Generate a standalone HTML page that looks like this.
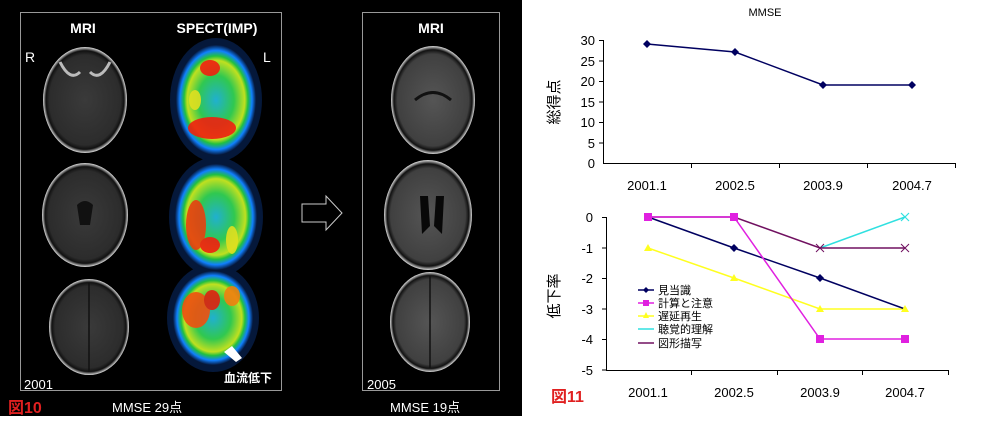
<!DOCTYPE html>
<html><head><meta charset="utf-8"><style>
body{margin:0;width:1000px;height:416px;background:#fff;overflow:hidden;font-family:"Liberation Sans","Noto Sans CJK JP",sans-serif}
</style></head><body>
<svg width="1000" height="416" xmlns="http://www.w3.org/2000/svg" font-family="Liberation Sans, Noto Sans CJK JP, sans-serif">
<defs>
<radialGradient id="mri" cx="50%" cy="50%" r="50%"><stop offset="0" stop-color="#3a3a3a"/><stop offset="0.85" stop-color="#2c2c2c"/><stop offset="0.93" stop-color="#111"/><stop offset="1" stop-color="#ddd"/></radialGradient>
<radialGradient id="mri2" cx="50%" cy="50%" r="50%"><stop offset="0" stop-color="#555"/><stop offset="0.85" stop-color="#404040"/><stop offset="0.93" stop-color="#111"/><stop offset="1" stop-color="#ddd"/></radialGradient>
<radialGradient id="sp" cx="50%" cy="50%" r="50%"><stop offset="0" stop-color="#20b0d0"/><stop offset="0.45" stop-color="#30c850"/><stop offset="0.72" stop-color="#c0e020"/><stop offset="0.8" stop-color="#20c040"/><stop offset="0.9" stop-color="#1080ff"/><stop offset="1" stop-color="#061a40"/></radialGradient>
</defs>
<rect x="0" y="0" width="522" height="416" fill="#000"/>
<rect x="20.5" y="12.5" width="261" height="378" fill="none" stroke="#999" stroke-width="1"/>
<rect x="362.5" y="12.5" width="137" height="378" fill="none" stroke="#999" stroke-width="1"/>
<g fill="#fff" font-weight="bold" font-size="14" text-anchor="middle">
<text x="83" y="33">MRI</text><text x="217" y="33">SPECT(IMP)</text><text x="431" y="33">MRI</text>
</g>
<text x="25" y="62" fill="#fff" font-size="14">R</text><text x="263" y="62" fill="#fff" font-size="14">L</text>
<ellipse cx="85" cy="100" rx="42" ry="53" fill="url(#mri)"/>
<ellipse cx="85" cy="215" rx="43" ry="52" fill="url(#mri)"/>
<ellipse cx="89" cy="327" rx="40" ry="48" fill="url(#mri)"/>
<path d="M60 62 q10 20 20 10 M110 62 q-10 20 -20 10" stroke="#bbb" stroke-width="3" fill="none"/>
<line x1="89" y1="283" x2="89" y2="372" stroke="#111" stroke-width="1.5"/>
<ellipse cx="216" cy="100" rx="46" ry="62" fill="#05183a"/>
<ellipse cx="216" cy="217" rx="47" ry="60" fill="#05183a"/>
<ellipse cx="213" cy="318" rx="46" ry="54" fill="#05183a"/>
<ellipse cx="216" cy="100" rx="40" ry="55" fill="url(#sp)"/>
<ellipse cx="216" cy="217" rx="41" ry="53" fill="url(#sp)"/>
<ellipse cx="213" cy="318" rx="40" ry="47" fill="url(#sp)"/>
<g fill="#f02010" opacity="0.9">
<ellipse cx="212" cy="128" rx="24" ry="11"/><ellipse cx="210" cy="68" rx="10" ry="8"/><ellipse cx="195" cy="100" rx="6" ry="10" fill="#e0e020"/>
<ellipse cx="196" cy="225" rx="10" ry="25" fill="#e84010"/><ellipse cx="210" cy="245" rx="10" ry="8"/><ellipse cx="232" cy="240" rx="6" ry="14" fill="#e0e020"/>
<ellipse cx="196" cy="310" rx="14" ry="18" fill="#f05010"/><ellipse cx="212" cy="300" rx="8" ry="10" fill="#e02010"/><ellipse cx="232" cy="296" rx="8" ry="10" fill="#f08010"/>
</g>
<path d="M77 205 q8 -8 16 0 l-3 20 h-10z" fill="#111"/>
<ellipse cx="433" cy="100" rx="42" ry="54" fill="url(#mri2)"/>
<ellipse cx="428" cy="215" rx="44" ry="55" fill="url(#mri2)"/>
<ellipse cx="430" cy="322" rx="40" ry="50" fill="url(#mri2)"/>
<path d="M415 100 q18 -15 36 0" stroke="#111" stroke-width="3" fill="none"/>
<line x1="430" y1="276" x2="430" y2="368" stroke="#111" stroke-width="1.5"/>
<path d="M420 196 h8 l2 30 l-8 8z M436 196 h8 l-2 38 l-8 -8z" fill="#080808"/>
<path d="M302 204 h24 v-8 l16 17 l-16 17 v-8 h-24z" fill="none" stroke="#ccc" stroke-width="1"/>
<path d="M232 346 l10 12 l-6 4 l-12 -10z" fill="#fff"/>
<text x="248" y="382" fill="#fff" font-size="12" font-weight="bold" text-anchor="middle">血流低下</text>
<text x="24" y="389" fill="#fff" font-size="13">2001</text>
<text x="367" y="389" fill="#fff" font-size="13">2005</text>
<text x="8" y="413" fill="#e02020" font-size="16" font-weight="bold">図10</text>
<text x="112" y="412" fill="#fff" font-size="13">MMSE  29点</text>
<text x="390" y="412" fill="#fff" font-size="13">MMSE  19点</text>

<text x="765" y="16" font-size="11" text-anchor="middle" fill="#000">MMSE</text>
<g stroke="#000" stroke-width="1" fill="none">
<path d="M603.5 40 V163.5 H955"/>
<path d="M599 40.5h4M599 61h4M599 81.5h4M599 102h4M599 122.5h4M599 143h4"/>
<path d="M691.5 163v5M779.5 163v5M867.5 163v5M955.5 163v5"/>
</g>
<g font-size="13" text-anchor="end" fill="#000">
<text x="595" y="45">30</text><text x="595" y="66">25</text><text x="595" y="86">20</text><text x="595" y="107">15</text><text x="595" y="127">10</text><text x="595" y="148">5</text><text x="595" y="168">0</text>
</g>
<g font-size="13" text-anchor="middle" fill="#000">
<text x="647" y="190">2001.1</text><text x="735" y="190">2002.5</text><text x="823" y="190">2003.9</text><text x="912" y="190">2004.7</text>
</g>
<text transform="translate(559,102) rotate(-90)" font-size="15" text-anchor="middle">総得点</text>
<polyline points="647,44 735,52 823,85 912,85" fill="none" stroke="#000060" stroke-width="1.5"/>
<g fill="#000060"><path d="M647 40l4 4-4 4-4-4z"/><path d="M735 48l4 4-4 4-4-4z"/><path d="M823 81l4 4-4 4-4-4z"/><path d="M912 81l4 4-4 4-4-4z"/></g>

<g stroke="#000" stroke-width="1" fill="none">
<path d="M606.5 217 V370.5 H948"/>
<path d="M602 217.5h4M602 248h4M602 278.5h4M602 309h4M602 339.5h4M602 370h4"/>
<path d="M691.5 370v5M777.5 370v5M862.5 370v5M948.5 370v5"/>
</g>
<g font-size="13" text-anchor="end" fill="#000">
<text x="593" y="222">0</text><text x="593" y="253">-1</text><text x="593" y="283">-2</text><text x="593" y="314">-3</text><text x="593" y="344">-4</text><text x="593" y="375">-5</text>
</g>
<g font-size="13" text-anchor="middle" fill="#000">
<text x="648" y="397">2001.1</text><text x="734" y="397">2002.5</text><text x="820" y="397">2003.9</text><text x="905" y="397">2004.7</text>
</g>
<text transform="translate(559,296) rotate(-90)" font-size="15" text-anchor="middle">低下率</text>
<text x="551" y="402" fill="#e02020" font-size="16" font-weight="bold">図11</text>
<polyline points="820,248 905,217" fill="none" stroke="#30e0e0" stroke-width="1.5"/>
<polyline points="648,248 734,278 820,309 905,309" fill="none" stroke="#ffff20" stroke-width="1.5"/>
<polyline points="648,217 734,217 820,248 905,248" fill="none" stroke="#701060" stroke-width="1.5"/>
<polyline points="648,217 734,248 820,278 905,309" fill="none" stroke="#000060" stroke-width="1.5"/>
<polyline points="648,217 734,217 820,339 905,339" fill="none" stroke="#e020e0" stroke-width="1.5"/>
<g fill="#ffff20"><path d="M648 244l4 7h-8z"/><path d="M734 274l4 7h-8z"/><path d="M820 305l4 7h-8z"/><path d="M905 305l4 7h-8z"/></g>
<g fill="#000060"><path d="M734 244l4 4-4 4-4-4z"/><path d="M820 274l4 4-4 4-4-4z"/></g>
<g fill="#e020e0"><rect x="644" y="213" width="8" height="8"/><rect x="730" y="213" width="8" height="8"/><rect x="816" y="335" width="8" height="8"/><rect x="901" y="335" width="8" height="8"/></g>
<g stroke="#701060" stroke-width="1"><path d="M816 244l8 8M824 244l-8 8M901 244l8 8M909 244l-8 8"/></g>
<g stroke="#30e0e0" stroke-width="1.2"><path d="M901 213l8 8M909 213l-8 8"/></g>
<g font-size="11" fill="#000">
<line x1="638" y1="290" x2="654" y2="290" stroke="#000060" stroke-width="1.5"/><path d="M646 287l3 3-3 3-3-3z" fill="#000060"/><text x="658" y="294">見当識</text>
<line x1="638" y1="303" x2="654" y2="303" stroke="#e020e0" stroke-width="1.5"/><rect x="643" y="300" width="6" height="6" fill="#e020e0"/><text x="658" y="307">計算と注意</text>
<line x1="638" y1="316" x2="654" y2="316" stroke="#ffff20" stroke-width="1.5"/><path d="M646 312l3 6h-6z" fill="#ffff20"/><text x="658" y="320">遅延再生</text>
<line x1="638" y1="329" x2="654" y2="329" stroke="#30e0e0" stroke-width="1.5"/><text x="658" y="333">聴覚的理解</text>
<line x1="638" y1="343" x2="654" y2="343" stroke="#701060" stroke-width="1.5"/><text x="658" y="347">図形描写</text>
</g>
</svg>
</body></html>
